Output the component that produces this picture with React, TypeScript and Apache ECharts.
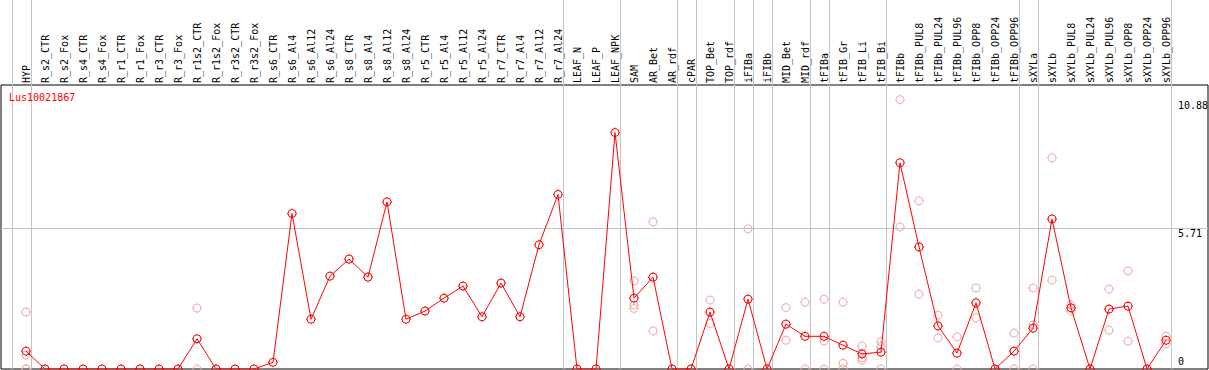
import React, { useEffect, useRef } from 'react';
import * as echarts from 'echarts';

const geneId = 'Lus10021867';

const categories = [
  'HYP', 'R_s2_CTR', 'R_s2_Fox', 'R_s4_CTR', 'R_s4_Fox', 'R_r1_CTR', 'R_r1_Fox', 'R_r3_CTR', 'R_r3_Fox',
  'R_r1s2_CTR', 'R_r1s2_Fox', 'R_r3s2_CTR', 'R_r3s2_Fox', 'R_s6_CTR', 'R_s6_Al4', 'R_s6_Al12', 'R_s6_Al24',
  'R_s8_CTR', 'R_s8_Al4', 'R_s8_Al12', 'R_s8_Al24', 'R_r5_CTR', 'R_r5_Al4', 'R_r5_Al12', 'R_r5_Al24',
  'R_r7_CTR', 'R_r7_Al4', 'R_r7_Al12', 'R_r7_Al24', 'LEAF_N', 'LEAF_P', 'LEAF_NPK', 'SAM', 'AR_Bet', 'AR_rdf',
  'cPAR', 'TOP_Bet', 'TOP_rdf', 'iFIBa', 'iFIBb', 'MID_Bet', 'MID_rdf', 'tFIBa', 'tFIB_Gr', 'tFIB_Li', 'tFIB_Bi',
  'tFIBb', 'tFIBb_PUL8', 'tFIBb_PUL24', 'tFIBb_PUL96', 'tFIBb_OPP8', 'tFIBb_OPP24', 'tFIBb_OPP96',
  'sXYLa', 'sXYLb', 'sXYLb_PUL8', 'sXYLb_PUL24', 'sXYLb_PUL96', 'sXYLb_OPP8', 'sXYLb_OPP24', 'sXYLb_OPP96',
];

const meanValues = [
  0.72, 0, 0, 0, 0, 0, 0, 0, 0,
  1.22, 0, 0, 0, 0.27, 6.28, 2.01, 3.75,
  4.44, 3.71, 6.75, 2.01, 2.34, 2.86, 3.35, 2.11,
  3.47, 2.11, 5.02, 7.05, 0, 0, 9.55, 2.86, 3.71, 0,
  0, 2.30, 0, 2.82, 0, 1.81, 1.32, 1.32, 0.96, 0.61, 0.68,
  8.33, 4.93, 1.74, 0.64, 2.67, 0, 0.72,
  1.65, 6.06, 2.47, 0, 2.42, 2.54, 0, 1.16,
];

const replicateValues: number[][] = [
  [2.30, 0.57, 0, 0], [], [], [], [], [], [], [], [],
  [2.46, 0], [], [], [], [], [], [], [],
  [], [], [], [], [], [], [], [],
  [], [], [], [], [], [], [], [3.56, 2.58, 2.45], [5.94, 1.54], [],
  [], [2.78, 1.84], [], [5.66, 0], [], [2.48, 1.16], [2.70, 0], [2.82, 1.13, 0], [2.70, 0.23, 0], [0.92, 0.45, 0.36], [1.11, 0.92, 0],
  [10.88, 5.74], [6.79, 3.02], [2.17, 1.26], [1.30, 0], [3.27, 2.07], [], [1.45, 0],
  [3.27, 1.78, 0], [8.53, 3.59], [2.58, 2.36], [], [3.23, 1.57], [3.96, 1.12], [], [1.32, 1.02],
];

const separatorAfter = [-1, 0, 28, 31, 34, 35, 37, 38, 39, 41, 42, 45, 52, 53, 60];
const yTickValues = [0, 5.71, 10.88];
const gridLineValues = [5.71];

const MONO = 'DejaVu Sans Mono';
const SYMBOL = 'path://M5,0L5,1M5,9L5,10M0,5L1,5M9,5L10,5M9,5A4,4,0,1,1,1,5A4,4,0,1,1,9,5Z';

export default function App() {
  const ref = useRef<HTMLDivElement>(null);

  useEffect(() => {
    document.body.style.margin = '0';
    const chart = echarts.init(ref.current!, null, { renderer: 'svg' });
    const W = 1209;
    const H = 370;
    const gLeft = 1, gRight = 1, gTop = 85, gBottom = 1;
    const step = 19;
    const xMin = -25 / step;
    const xMax = xMin + (W - gLeft - gRight) / step;

    const repData = replicateValues.flatMap((vals, i) => vals.map((v) => [i, v]));

    chart.setOption({
      animation: false,
      grid: {
        left: gLeft, right: gRight, top: gTop, bottom: gBottom,
        show: true, borderColor: '#000', borderWidth: 1, backgroundColor: 'transparent',
      },
      xAxis: {
        type: 'value', position: 'top', min: xMin, max: xMax,
        axisLine: { show: false }, axisTick: { show: false }, splitLine: { show: false },
        axisLabel: {
          customValues: categories.map((_, i) => i),
          formatter: (v: number) => categories[Math.round(v)] ?? '',
          rotate: 90, fontFamily: MONO, fontSize: 10, color: '#000', margin: 2,
        },
      },
      yAxis: { type: 'value', min: 0, max: 11.47, show: false },
      series: [
        {
          type: 'scatter', data: repData, symbol: SYMBOL, symbolSize: 10,
          itemStyle: { color: 'transparent', borderColor: '#eb9c9c', borderWidth: 1 }, z: 2,
        },
        {
          type: 'line', data: meanValues.map((v, i) => [i, v]), symbol: SYMBOL, symbolSize: 10,
          showAllSymbol: true,
          lineStyle: { color: '#ff0000', width: 1 },
          itemStyle: { color: 'transparent', borderColor: '#ff0000', borderWidth: 1 }, z: 3,
        },
      ],
    });

    const bottomPx = H - gBottom;
    const graphics: any[] = [];
    separatorAfter.forEach((i) => {
      const x = Math.round(chart.convertToPixel({ xAxisIndex: 0 }, i + 0.25) as number) + 0.5;
      graphics.push({
        type: 'line', z: 0, silent: true,
        shape: { x1: x, y1: 0, x2: x, y2: bottomPx },
        style: { stroke: '#c4c4c4', lineWidth: 1 },
      });
    });
    gridLineValues.forEach((v) => {
      const y = Math.round(chart.convertToPixel({ yAxisIndex: 0 }, v) as number) + 0.5;
      graphics.push({
        type: 'line', z: 0, silent: true,
        shape: { x1: gLeft, y1: y, x2: W - gRight, y2: y },
        style: { stroke: '#c4c4c4', lineWidth: 1 },
      });
    });
    yTickValues.forEach((v) => {
      const y = chart.convertToPixel({ yAxisIndex: 0 }, v) as number;
      const nearBottom = y > bottomPx - 12;
      graphics.push({
        type: 'text', z: 10, silent: true,
        x: W - gRight - 30, y: nearBottom ? y - 3 : y + 1,
        style: {
          text: String(v), fill: '#000', font: `10px "${MONO}"`,
          textAlign: 'left', textVerticalAlign: nearBottom ? 'bottom' : 'top',
        },
      });
    });
    graphics.push({
      type: 'text', z: 10, silent: true, x: 9, y: 92,
      style: { text: geneId, fill: '#ff0000', font: `10px "${MONO}"`, textAlign: 'left', textVerticalAlign: 'top' },
    });
    chart.setOption({ graphic: graphics });

    return () => chart.dispose();
  }, []);

  return <div ref={ref} style={{ width: 1209, height: 370 }} />;
}
